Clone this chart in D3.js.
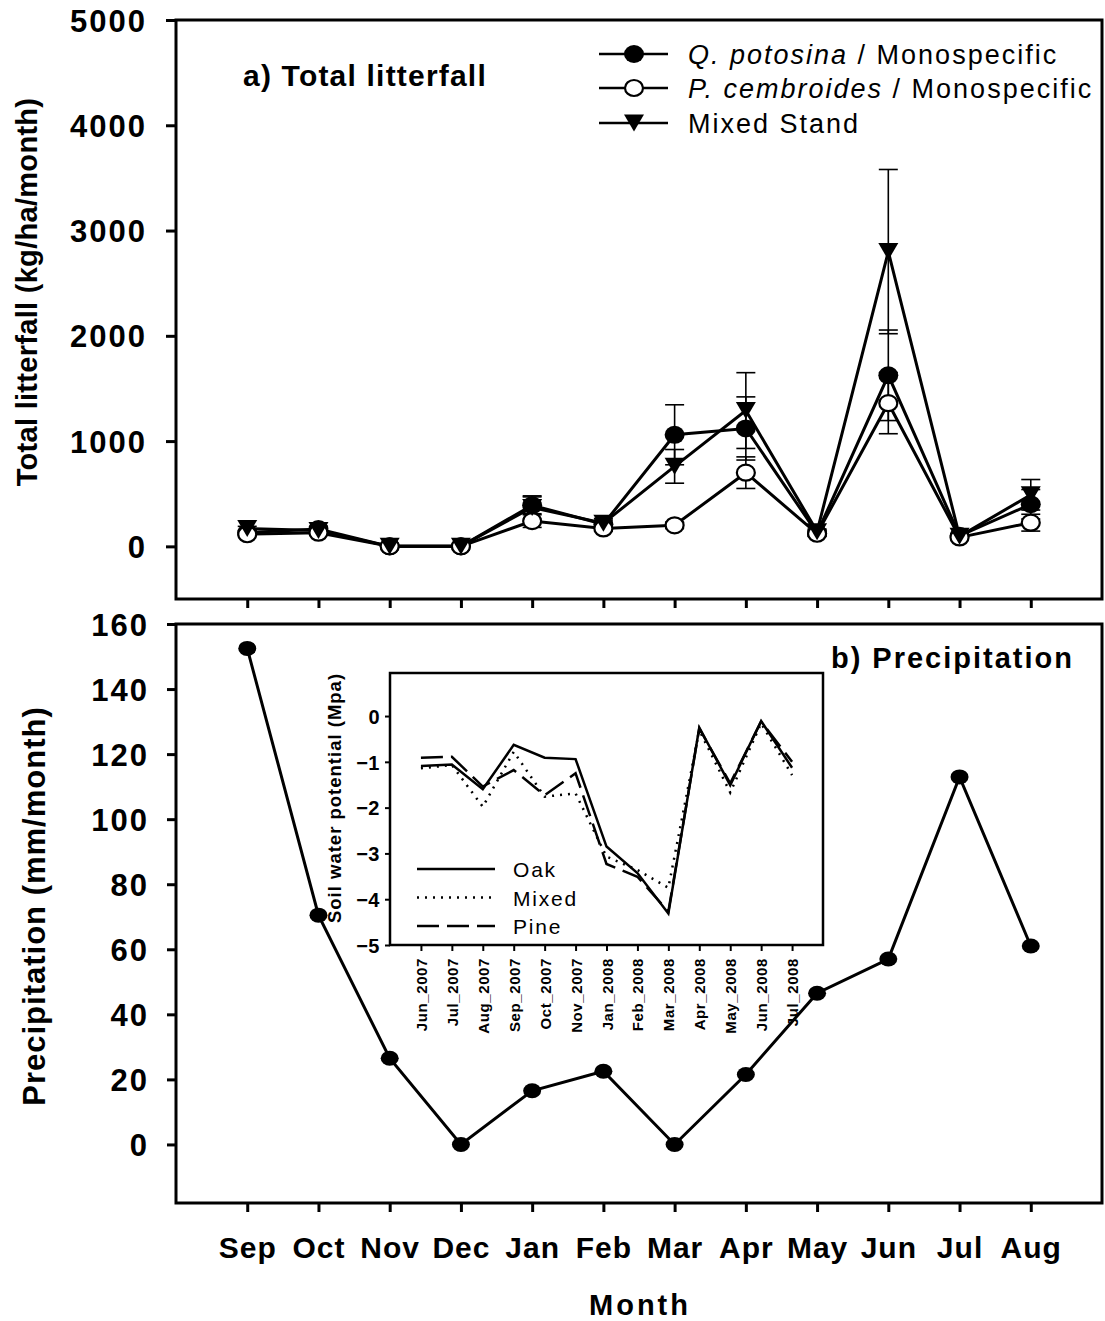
<!DOCTYPE html>
<html>
<head>
<meta charset="utf-8">
<script src="https://cdn.jsdelivr.net/npm/d3@7"></script>
<style>
  body { margin: 0; background: #fff; }
  svg { display: block; }
  text { font-family: "Liberation Sans", Arial, sans-serif; fill: #000; }
</style>
</head>
<body>
<svg id="chart" width="1105" height="1321"></svg>
<script>
// ---- data ----
const months = ["Sep", "Oct", "Nov", "Dec", "Jan", "Feb", "Mar", "Apr", "May", "Jun", "Jul", "Aug"];

// Total litterfall (kg/ha/month), mean and standard error
const qPotosina     = [130, 165, 0, 0, 390, 210, 1060, 1120, 125, 1625, 100, 400];
const qPotosinaSE   = [20, 25, 0, 0, 80, 40, 285, 300, 30, 430, 20, 140];
const pCembroides   = [115, 130, 0, 0, 240, 170, 200, 700, 120, 1360, 85, 225];
const pCembroidesSE = [15, 20, 0, 0, 60, 25, 30, 150, 20, 290, 15, 80];
const mixedStand    = [170, 150, 0, 0, 370, 220, 760, 1290, 140, 2800, 95, 490];
const mixedStandSE  = [20, 20, 0, 0, 110, 45, 160, 360, 25, 780, 20, 145];
const litterTicks   = [0, 1000, 2000, 3000, 4000, 5000];

// Precipitation (mm/month)
const precipitation = [152.5, 70.5, 26.5, 0, 16.5, 22.5, 0, 21.5, 46.5, 57, 113, 61];
const precipTicks   = [0, 20, 40, 60, 80, 100, 120, 140, 160];

// Soil water potential (MPa), inset
const swpDates = ["Jun_2007", "Jul_2007", "Aug_2007", "Sep_2007", "Oct_2007", "Nov_2007",
                  "Jan_2008", "Feb_2008", "Mar_2008", "Apr_2008", "May_2008", "Jun_2008", "Jul_2008"];
const swpOak   = [-1.09, -1.06, -1.60, -0.63, -0.91, -0.94, -2.85, -3.43, -4.31, -0.25, -1.51, -0.11, -1.13];
const swpMixed = [-1.14, -1.07, -1.98, -0.78, -1.76, -1.69, -3.07, -3.36, -3.75, -0.31, -1.67, -0.16, -1.29];
const swpPine  = [-0.91, -0.89, -1.54, -1.18, -1.73, -1.25, -3.23, -3.51, -4.27, -0.27, -1.47, -0.12, -1.00];
const swpTicks = [0, -1, -2, -3, -4, -5];

// ---- layout ----
const svg = d3.select("#chart");
svg.append("rect").attr("width", 1105).attr("height", 1321).attr("fill", "#fff");

const A = { left: 176, right: 1102, top: 20, bottom: 599 };
const B = { left: 176, right: 1102, top: 624, bottom: 1203 };
const I = { left: 390, right: 823, top: 673, bottom: 945 };

const x  = d3.scaleLinear().domain([0, 13]).range([A.left, A.right]);
const yA = d3.scaleLinear().domain([-500, 5000]).range([A.bottom, A.top]);
const yB = d3.scaleLinear().domain([-18, 160]).range([B.bottom, B.top]);
const xI = d3.scaleLinear().domain([-1, 13]).range([I.left, I.right]);
const yI = d3.scaleLinear().domain([-5, 0.94]).range([I.bottom, I.top]);

const monthIdx = months.map((m, i) => i + 1);

function styleAxis(g, width) {
  g.select(".domain").remove();
  g.selectAll(".tick line").attr("stroke", "#000").attr("stroke-width", width);
}

// ================= Panel a: total litterfall =================
const gA = svg.append("g");

gA.append("rect")
  .attr("x", A.left).attr("y", A.top)
  .attr("width", A.right - A.left).attr("height", A.bottom - A.top)
  .attr("fill", "none").attr("stroke", "#000").attr("stroke-width", 3);

gA.append("g").attr("transform", `translate(${A.left},0)`)
  .call(d3.axisLeft(yA).tickValues(litterTicks).tickSize(10).tickPadding(0).tickFormat(d3.format("d")))
  .call(g => styleAxis(g, 3))
  .call(g => g.selectAll(".tick text")
    .attr("x", -29).attr("dy", "0.36em")
    .style("font-size", "31px").style("font-weight", "bold").style("letter-spacing", "2px")
    .attr("text-anchor", "end"));

gA.append("g").attr("transform", `translate(0,${A.bottom})`)
  .call(d3.axisBottom(x).tickValues(monthIdx).tickSize(9).tickFormat(""))
  .call(g => styleAxis(g, 3));

gA.append("text")
  .attr("transform", `translate(37,292) rotate(-90)`)
  .attr("text-anchor", "middle")
  .style("font-size", "29px").style("font-weight", "bold").style("letter-spacing", "0.3px")
  .text("Total litterfall (kg/ha/month)");

gA.append("text")
  .attr("x", 243).attr("y", 86)
  .style("font-size", "30px").style("font-weight", "bold").style("letter-spacing", "1.2px")
  .text("a) Total litterfall");

const litterSeries = [
  { name: "Q. potosina", values: qPotosina, se: qPotosinaSE, marker: "filled" },
  { name: "P. cembroides", values: pCembroides, se: pCembroidesSE, marker: "open" },
  { name: "Mixed Stand", values: mixedStand, se: mixedStandSE, marker: "triangle" }
];

const lineA = d3.line().x((d, i) => x(i + 1)).y(d => yA(d));

// connecting lines
litterSeries.forEach(s => {
  gA.append("path").datum(s.values)
    .attr("d", lineA).attr("fill", "none")
    .attr("stroke", "#000").attr("stroke-width", 3).attr("stroke-linejoin", "miter");
});

// error bars
litterSeries.forEach(s => {
  const eb = gA.append("g").attr("stroke", "#000").attr("stroke-width", 1.6);
  s.values.forEach((v, i) => {
    const se = s.se[i];
    if (!se) return;
    const cx = x(i + 1);
    eb.append("line").attr("x1", cx).attr("x2", cx).attr("y1", yA(v - se)).attr("y2", yA(v + se));
    [v - se, v + se].forEach(e => {
      eb.append("line").attr("x1", cx - 9.5).attr("x2", cx + 9.5).attr("y1", yA(e)).attr("y2", yA(e));
    });
  });
});

function drawMarker(g, type, cx, cy) {
  if (type === "filled") {
    g.append("ellipse").attr("cx", cx).attr("cy", cy).attr("rx", 10).attr("ry", 9)
      .attr("fill", "#000");
  } else if (type === "open") {
    g.append("ellipse").attr("cx", cx).attr("cy", cy).attr("rx", 9).attr("ry", 8)
      .attr("fill", "#fff").attr("stroke", "#000").attr("stroke-width", 2.2);
  } else {
    g.append("path")
      .attr("d", `M${cx - 10},${cy - 8.5} L${cx + 10},${cy - 8.5} L${cx},${cy + 8.5} Z`)
      .attr("fill", "#000");
  }
}

litterSeries.forEach(s => {
  const mg = gA.append("g");
  s.values.forEach((v, i) => drawMarker(mg, s.marker, x(i + 1), yA(v)));
});

// legend
const legA = gA.append("g");
const legRows = [
  { y: 54, marker: "filled", italic: "Q. potosina", rest: " / Monospecific" },
  { y: 88, marker: "open", italic: "P. cembroides", rest: " / Monospecific" },
  { y: 123, marker: "triangle", italic: null, rest: "Mixed Stand" }
];
legRows.forEach(r => {
  legA.append("line").attr("x1", 599).attr("x2", 668).attr("y1", r.y).attr("y2", r.y)
    .attr("stroke", "#000").attr("stroke-width", 2.5);
  drawMarker(legA, r.marker, 634, r.y);
  const t = legA.append("text").attr("x", 688).attr("y", r.y + 9.5)
    .style("font-size", "27px").style("letter-spacing", "2px");
  if (r.italic) t.append("tspan").style("font-style", "italic").text(r.italic);
  t.append("tspan").text(r.rest);
});

// ================= Panel b: precipitation =================
const gB = svg.append("g");

gB.append("rect")
  .attr("x", B.left).attr("y", B.top)
  .attr("width", B.right - B.left).attr("height", B.bottom - B.top)
  .attr("fill", "none").attr("stroke", "#000").attr("stroke-width", 3);

gB.append("g").attr("transform", `translate(${B.left},0)`)
  .call(d3.axisLeft(yB).tickValues(precipTicks).tickSize(9).tickPadding(0).tickFormat(d3.format("d")))
  .call(g => styleAxis(g, 3))
  .call(g => g.selectAll(".tick text")
    .attr("x", -27).attr("dy", "0.36em")
    .style("font-size", "31px").style("font-weight", "bold").style("letter-spacing", "2px")
    .attr("text-anchor", "end"));

gB.append("g").attr("transform", `translate(0,${B.bottom})`)
  .call(d3.axisBottom(x).tickValues(monthIdx).tickSize(9).tickFormat((d, i) => months[i]))
  .call(g => styleAxis(g, 3))
  .call(g => g.selectAll(".tick text")
    .attr("y", 55).attr("dy", 0)
    .style("font-size", "30px").style("font-weight", "bold").style("letter-spacing", "1px"));

gB.append("text")
  .attr("transform", `translate(45,906) rotate(-90)`)
  .attr("text-anchor", "middle")
  .style("font-size", "31px").style("font-weight", "bold").style("letter-spacing", "1px")
  .text("Precipitation (mm/month)");

gB.append("text")
  .attr("x", 640).attr("y", 1315)
  .attr("text-anchor", "middle")
  .style("font-size", "29px").style("font-weight", "bold").style("letter-spacing", "3px")
  .text("Month");

gB.append("text")
  .attr("x", 1074).attr("y", 668)
  .attr("text-anchor", "end")
  .style("font-size", "29px").style("font-weight", "bold").style("letter-spacing", "2px")
  .text("b) Precipitation");

const lineB = d3.line().x((d, i) => x(i + 1)).y(d => yB(d));
gB.append("path").datum(precipitation)
  .attr("d", lineB).attr("fill", "none").attr("stroke", "#000").attr("stroke-width", 3);
gB.append("g").selectAll("ellipse").data(precipitation).join("ellipse")
  .attr("cx", (d, i) => x(i + 1)).attr("cy", d => yB(d))
  .attr("rx", 9).attr("ry", 7.5).attr("fill", "#000");

// ================= Inset: soil water potential =================
const gI = svg.append("g");

gI.append("rect")
  .attr("x", I.left).attr("y", I.top)
  .attr("width", I.right - I.left).attr("height", I.bottom - I.top)
  .attr("fill", "none").attr("stroke", "#000").attr("stroke-width", 2.5);

gI.append("g").attr("transform", `translate(${I.left},0)`)
  .call(d3.axisLeft(yI).tickValues(swpTicks).tickSize(5).tickPadding(0).tickFormat(d3.format("d")))
  .call(g => styleAxis(g, 2))
  .call(g => g.selectAll(".tick text")
    .attr("x", -10).attr("dy", "0.36em")
    .style("font-size", "20px").style("font-weight", "bold").style("letter-spacing", "0.5px")
    .attr("text-anchor", "end"));

gI.append("g").attr("transform", `translate(0,${I.bottom})`)
  .call(d3.axisBottom(xI).tickValues(d3.range(swpDates.length)).tickSize(6).tickFormat((d, i) => swpDates[i]))
  .call(g => styleAxis(g, 2))
  .call(g => g.selectAll(".tick text")
    .attr("y", 0).attr("dy", 0)
    .attr("transform", "translate(5.5,13) rotate(-90)")
    .attr("text-anchor", "end")
    .style("font-size", "15px").style("font-weight", "bold").style("letter-spacing", "0.6px"));

gI.append("text")
  .attr("transform", `translate(341,798) rotate(-90)`)
  .attr("text-anchor", "middle")
  .style("font-size", "18.5px").style("font-weight", "bold").style("letter-spacing", "1px")
  .text("Soil water potential (Mpa)");

const swpSeries = [
  { name: "Oak", values: swpOak, dash: null },
  { name: "Mixed", values: swpMixed, dash: "2,6" },
  { name: "Pine", values: swpPine, dash: "22,8" }
];

const lineI = d3.line().x((d, i) => xI(i)).y(d => yI(d));
swpSeries.forEach(s => {
  gI.append("path").datum(s.values)
    .attr("d", lineI).attr("fill", "none").attr("stroke", "#000")
    .attr("stroke-width", 2.5).attr("stroke-dasharray", s.dash);
});

swpSeries.forEach((s, k) => {
  const ly = 869 + k * 28.5;
  gI.append("line").attr("x1", 417).attr("x2", 495).attr("y1", ly).attr("y2", ly)
    .attr("stroke", "#000").attr("stroke-width", 2.5).attr("stroke-dasharray", s.dash);
  gI.append("text").attr("x", 513).attr("y", ly + 8)
    .style("font-size", "21px").style("letter-spacing", "1.8px")
    .text(s.name);
});
</script>
</body>
</html>
